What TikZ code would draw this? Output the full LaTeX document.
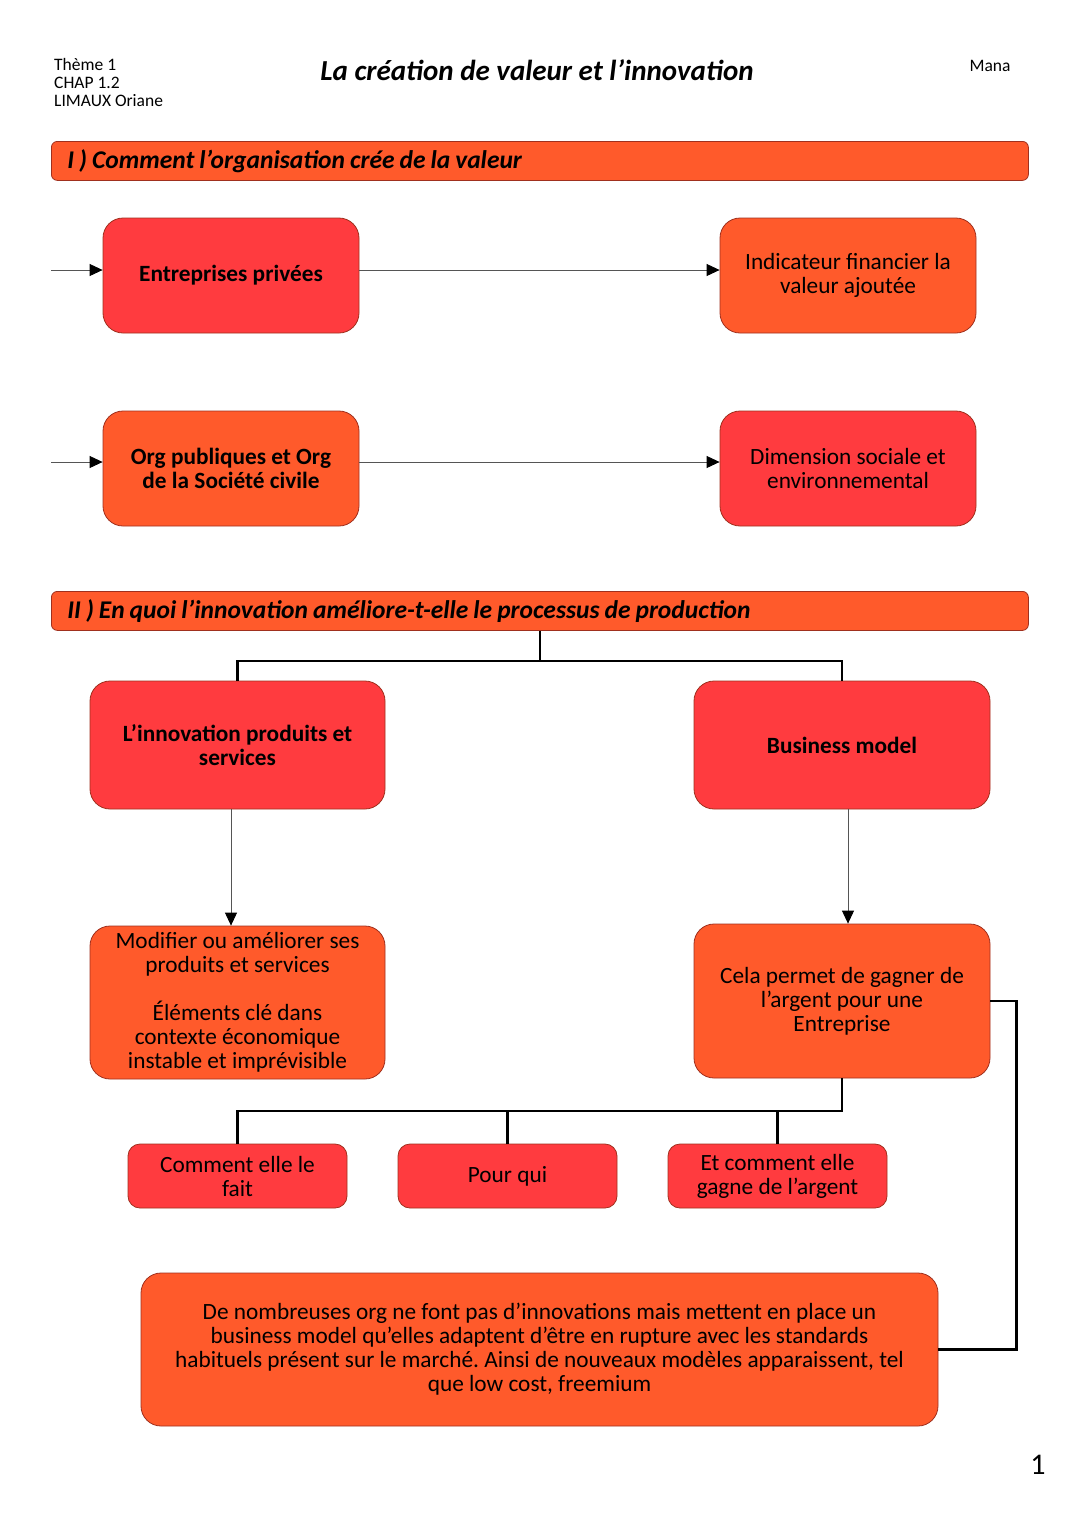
\documentclass[tikz,border=0pt]{standalone}
\usepackage{fontspec}
\setmainfont{Carlito}
\usetikzlibrary{arrows.meta}
\definecolor{boxred}{HTML}{FF3B3F}
\definecolor{boxorange}{HTML}{FF5A2B}
\definecolor{boxedge}{HTML}{A0301E}
\definecolor{thinline}{HTML}{555555}
\newcommand\mytightspace{\spaceskip=5pt plus 1pt minus 1pt\relax}
\frenchspacing
\begin{document}
\begin{tikzpicture}[x=1pt,y=-1pt,
  card/.style={draw=boxedge, line width=0.8pt, rounded corners=20pt, align=center, inner sep=0pt, font=\fontsize{23.3}{24}\selectfont, text=black},
  boldtext/.style={font=\fontsize{23.3}{24}\selectfont\bfseries},
  bigcard/.style={card, minimum width=256pt, minimum height=115pt},
  smallcard/.style={card, rounded corners=12pt, minimum width=219pt, minimum height=64pt},
  redfill/.style={fill=boxred},
  orangefill/.style={fill=boxorange},
  sectionbar/.style={draw=boxedge, line width=0.8pt, fill=boxorange, rounded corners=6pt, anchor=north west, minimum height=39pt, text width=961pt, inner xsep=8pt, inner ysep=0pt, align=left, font=\fontsize{25.5}{26}\selectfont\bfseries\itshape},
  thinarrow/.style={draw=thinline, line width=0.9pt, -{Triangle[length=13pt,width=12pt,color=black]}},
  treeline/.style={draw=black, line width=2.8pt},
  headtext/.style={font=\fontsize{17.5}{18}\selectfont, align=left, inner sep=0pt}
]
\useasboundingbox (0,0) rectangle (1080,1527);

% header
\node[headtext, anchor=north west] (hdr) at (54,58) {Thème 1\\CHAP 1.2\\LIMAUX Oriane};
\node[font=\fontsize{29}{32}\selectfont\bfseries\itshape, inner sep=0pt] (title) at (537,70) {La création de valeur et l’innovation};
\node[headtext] (mana) at (990,66) {Mana};

% section I
\node[sectionbar] (sec1) at (51,141) {\mytightspace\hspace*{8pt}I ) Comment l’organisation crée de la valeur};

\node[bigcard, redfill, boldtext] (ent) at (231,275.5) {Entreprises privées};
\node[bigcard, orangefill] (ind) at (848,275.5) {Indicateur financier la\\valeur ajoutée};
\node[bigcard, orangefill, boldtext] (org) at (231,468.5) {Org publiques et Org\\de la Société civile};
\node[bigcard, redfill] (dim) at (848,468.5) {Dimension sociale et\\environnemental};

\coordinate (inA) at (51,270);
\coordinate (inB) at (51,462);
\draw[thinarrow] (inA) -- (inA -| ent.west);
\draw[thinarrow] (ent.east |- inA) -- (ind.west |- inA);
\draw[thinarrow] (inB) -- (inB -| org.west);
\draw[thinarrow] (org.east |- inB) -- (dim.west |- inB);

% section II
\node[sectionbar] (sec2) at (51,591) {\mytightspace\hspace*{8pt}II ) En quoi l’innovation améliore-t-elle le processus de production};

\node[card, redfill, boldtext, minimum width=295pt, minimum height=128pt] (inn) at (237.5,745) {L’innovation produits et\\services};
\node[card, redfill, boldtext, minimum width=296pt, minimum height=128pt] (bm) at (842,745) {Business model};

\coordinate (h1) at (540,661);
\draw[treeline] (h1 |- sec2.south) -- (h1);
\draw[treeline] (inn.north) |- (h1) -| (bm.north);

\node[card, orangefill, minimum width=295pt, minimum height=153pt] (mod) at (237.5,1002.5) {Modifier ou améliorer ses\\produits et services\\[24pt]Éléments clé dans\\contexte économique\\instable et imprévisible};
\node[card, orangefill, minimum width=296pt, minimum height=154pt] (cela) at (842,1001) {Cela permet de gagner de\\l’argent pour une\\Entreprise};

\coordinate (a1) at (231,809);
\coordinate (a2) at (848,809);
\draw[thinarrow] (a1) -- (a1 |- mod.north);
\draw[thinarrow] (a2) -- (a2 |- cela.north);

\node[smallcard, redfill] (c1) at (237.5,1176) {Comment elle le\\fait};
\node[smallcard, redfill] (c2) at (507.5,1176) {Pour qui};
\node[smallcard, redfill] (c3) at (777.5,1176) {Et comment elle\\gagne de l’argent};

\coordinate (h2) at (842,1111);
\draw[treeline] (cela.south) -- (h2) -- (h2 -| c1.north) -- (c1.north);
\draw[treeline] (c2.north) -- (c2.north |- h2);
\draw[treeline] (c3.north) -- (c3.north |- h2);

\node[card, orangefill, minimum width=797pt, minimum height=153pt] (big) at (539.5,1349.5) {De nombreuses org ne font pas d’innovations mais mettent en place un\\business model qu’elles adaptent d’être en rupture avec les standards\\habituels présent sur le marché. Ainsi de nouveaux modèles apparaissent, tel\\que low cost, freemium};

\draw[treeline, line width=2.5pt] (cela.east) -- ++(26,0) |- (big.east);

\node[font=\fontsize{30}{32}\selectfont, inner sep=0pt] (pnum) at (1038,1465) {1};
\end{tikzpicture}
\end{document}
